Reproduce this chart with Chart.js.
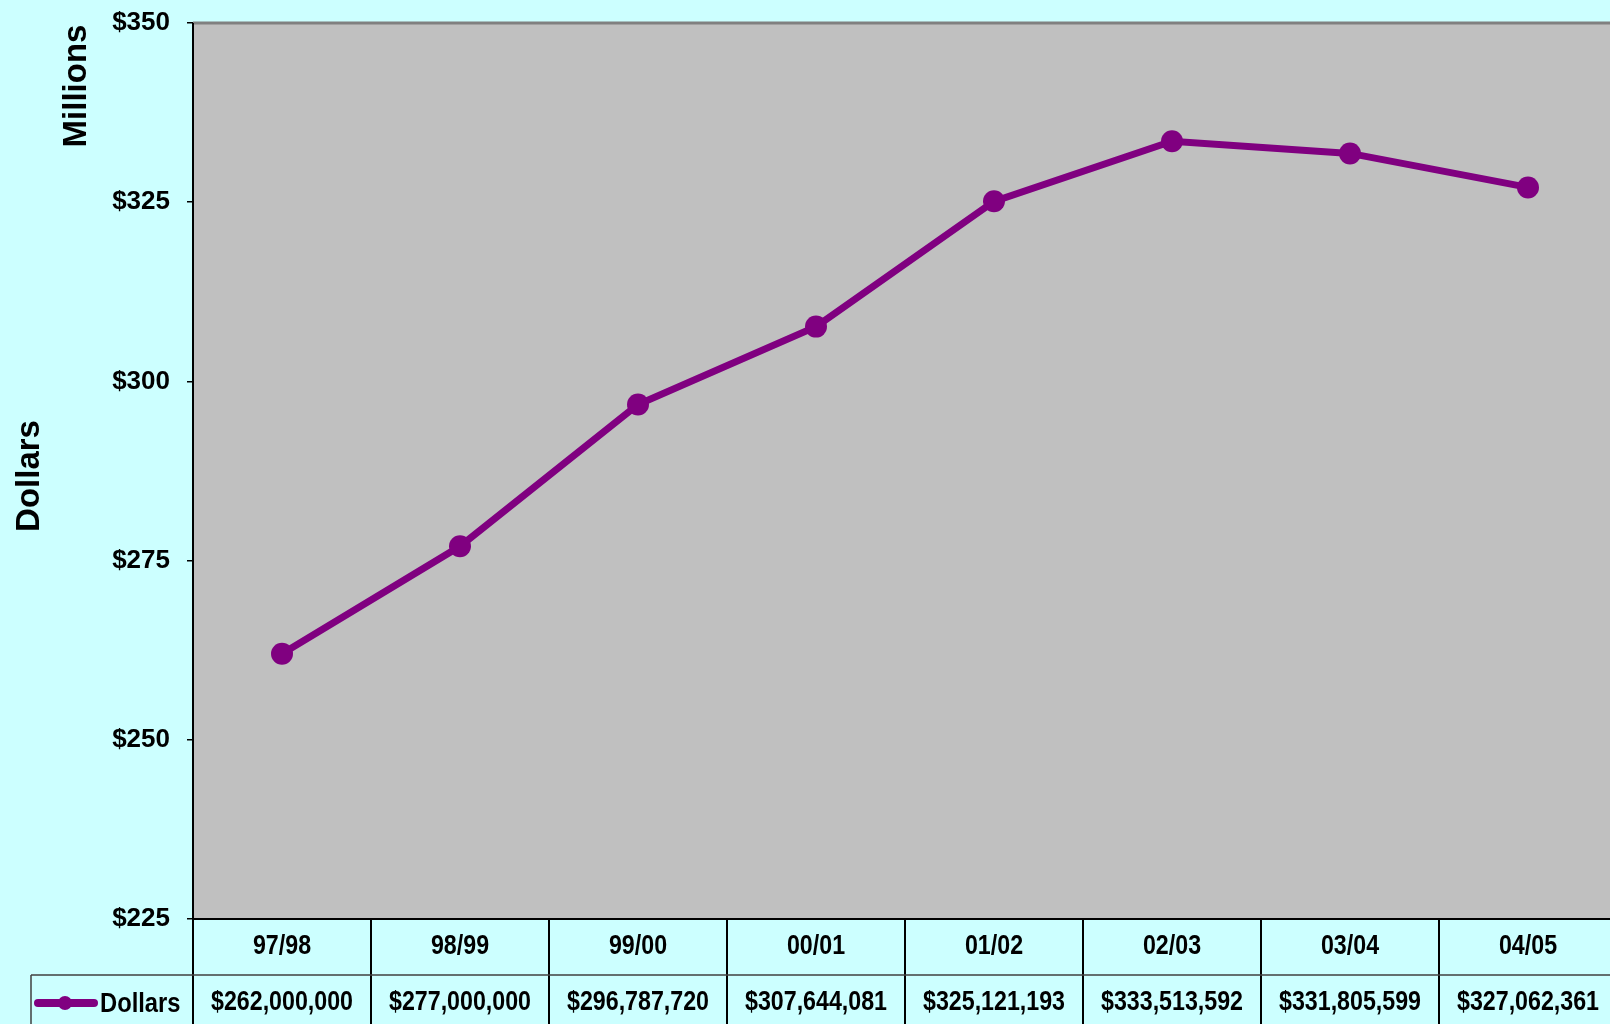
<!DOCTYPE html>
<html>
<head>
<meta charset="utf-8">
<script src="https://cdn.jsdelivr.net/npm/chart.js@4"></script>
<style>
  html, body { margin: 0; padding: 0; background: #ccffff; overflow: hidden; }
  #box { position: relative; width: 1617px; height: 1024px; }
</style>
</head>
<body>
<div id="box"><canvas id="myChart"></canvas></div>
<script>
// data
var years = ['97/98', '98/99', '99/00', '00/01', '01/02', '02/03', '03/04', '04/05']
var dollars = [262000000, 277000000, 296787720, 307644081, 325121193, 333513592, 331805599, 327062361]
var yTicks = [225, 250, 275, 300, 325, 350]
var dollarsMillions = dollars.map(function (v) { return v / 1000000 })

var font = '"Liberation Sans", Arial, sans-serif'
var purple = '#800080'

function money(v) {
    return '$' + v.toLocaleString('en-US')
}

// narrow-ish text: squeeze horizontally
function narrowText(ctx, txt, x, y, sx) {
    ctx.save()
    ctx.translate(x, y)
    ctx.scale(sx, 1)
    ctx.fillText(txt, 0, 0)
    ctx.restore()
}

// gray plot area, table under it, axis titles
var tablePlugin = {
    id: 'tablePlugin',
    beforeDatasetsDraw: function (chart) {
        var ctx = chart.ctx
        var a = chart.chartArea
        ctx.save()
        ctx.fillStyle = '#c0c0c0'
        ctx.fillRect(a.left, a.top, a.right - a.left, a.bottom - a.top)
        ctx.restore()
    },
    afterDraw: function (chart) {
        var ctx = chart.ctx
        var a = chart.chartArea
        var x = chart.scales.x
        var h = chart.height
        var rowTop = a.bottom + 56
        var step = x.getPixelForValue(1) - x.getPixelForValue(0)
        ctx.save()

        // borders
        ctx.strokeStyle = '#808080'
        ctx.lineWidth = 3
        ctx.beginPath()
        ctx.moveTo(a.left, a.top)
        ctx.lineTo(a.right, a.top)
        ctx.stroke()

        ctx.strokeStyle = '#000'
        ctx.lineWidth = 2
        ctx.beginPath()
        ctx.moveTo(a.left, a.top)
        ctx.lineTo(a.left, h)
        ctx.moveTo(a.left, a.bottom)
        ctx.lineTo(a.right, a.bottom)
        for (var i = 1; i <= years.length; i++) {
            var bx = Math.round(x.getPixelForValue(i) - step / 2)
            ctx.moveTo(bx, a.bottom)
            ctx.lineTo(bx, h)
        }
        ctx.stroke()

        ctx.strokeStyle = '#404040'
        ctx.lineWidth = 1.5
        ctx.beginPath()
        ctx.moveTo(31, rowTop)
        ctx.lineTo(a.right, rowTop)
        ctx.moveTo(31, rowTop)
        ctx.lineTo(31, h)
        ctx.stroke()

        // category row and value row
        ctx.fillStyle = '#000'
        ctx.textAlign = 'center'
        ctx.textBaseline = 'middle'
        ctx.font = 'bold 27px ' + font
        for (var j = 0; j < years.length; j++) {
            var cx = x.getPixelForValue(j)
            narrowText(ctx, years[j], cx, a.bottom + 28, 0.86)
            narrowText(ctx, money(dollars[j]), cx, rowTop + 28, 0.86)
        }

        // legend key
        ctx.strokeStyle = purple
        ctx.lineWidth = 8
        ctx.lineCap = 'round'
        ctx.beginPath()
        ctx.moveTo(38, rowTop + 28)
        ctx.lineTo(94, rowTop + 28)
        ctx.stroke()
        ctx.fillStyle = purple
        ctx.beginPath()
        ctx.arc(65, rowTop + 28, 7, 0, Math.PI * 2)
        ctx.fill()
        ctx.fillStyle = '#000'
        ctx.textAlign = 'left'
        narrowText(ctx, 'Dollars', 100, rowTop + 30, 0.88)

        // axis titles
        ctx.font = 'bold 33px ' + font
        ctx.textAlign = 'center'
        ctx.save()
        ctx.translate(30, 476)
        ctx.rotate(-Math.PI / 2)
        ctx.fillText('Dollars', 0, 0)
        ctx.restore()
        ctx.save()
        ctx.translate(77, 86)
        ctx.rotate(-Math.PI / 2)
        ctx.fillText('Millions', 0, 0)
        ctx.restore()

        ctx.restore()
    }
}

const ctx = document.getElementById('myChart')

new Chart(ctx, {
    type: 'line',
    data: {
        labels: years,
        datasets: [{
            label: 'Dollars',
            data: dollarsMillions,
            borderColor: purple,
            backgroundColor: purple,
            borderWidth: 7,
            pointRadius: 11,
            pointHoverRadius: 11,
            pointBorderWidth: 0,
            tension: 0,
            fill: false
        }]
    },
    options: {
        responsive: true,
        maintainAspectRatio: false,
        animation: false,
        layout: { autoPadding: false, padding: { top: 23, left: 0, right: 0, bottom: 0 } },
        plugins: {
            legend: { display: false },
            tooltip: { enabled: false }
        },
        scales: {
            x: {
                type: 'category',
                offset: true,
                grid: { display: false },
                border: { display: false },
                ticks: { display: false },
                afterFit: function (s) { s.height = 105 }
            },
            y: {
                min: 225,
                max: 350,
                afterBuildTicks: function (s) {
                    s.ticks = yTicks.map(function (v) { return { value: v } })
                },
                grid: {
                    drawOnChartArea: false,
                    drawTicks: true,
                    tickLength: 6,
                    color: '#000',
                    lineWidth: 1.5
                },
                border: { display: false },
                ticks: {
                    color: '#000',
                    padding: 17,
                    font: { family: font, size: 26, weight: 'bold' },
                    callback: function (v) { return '$' + v }
                },
                afterFit: function (s) {
                    s.width = 193
                    s.paddingTop = 0
                    s.paddingBottom = 0
                }
            }
        }
    },
    plugins: [tablePlugin]
});
</script>
</body>
</html>
